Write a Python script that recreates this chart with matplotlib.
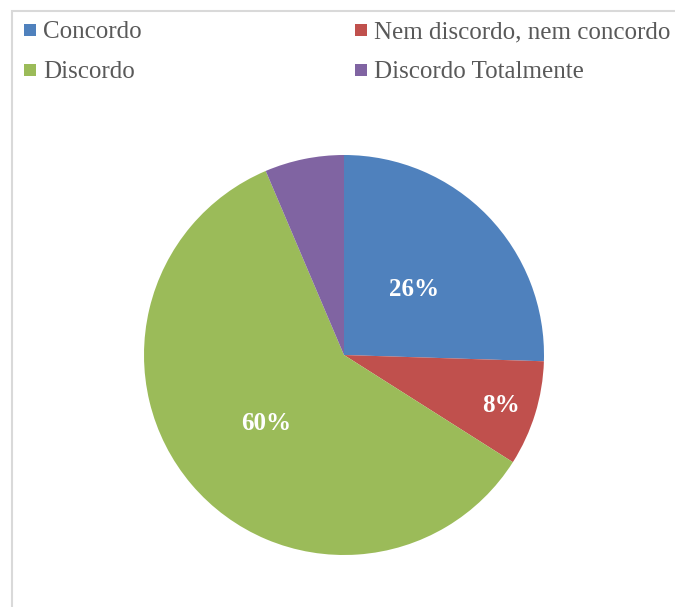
import numpy as np
import matplotlib
matplotlib.use("Agg")
import matplotlib.pyplot as plt
from matplotlib.patches import Rectangle

labels = ["Concordo", "Nem discordo, nem concordo", "Discordo", "Discordo Totalmente"]
values = [25.5, 8.5, 59.6, 6.4]
pct_labels = ["26%", "8%", "60%", None]
colors = ["#4F81BD", "#C0504D", "#9BBB59", "#8064A2"]
# label distance from centre (fraction of radius), Excel "best fit" style
label_dist = [0.49, 0.82, 0.51, None]

W, H = 675, 607
fig = plt.figure(figsize=(W / 100, H / 100), dpi=100)
plt.rcParams['font.family'] = ['Liberation Serif', 'DejaVu Serif']

# chart area border
fig.patches.append(Rectangle((12 / W, -0.1), 2, 1.1 - 11 / H, transform=fig.transFigure,
                             fill=False, edgecolor="#D9D9D9", linewidth=1.5))

# pie: centre (344, 355) px, radius 200 px
r = 200
ax = fig.add_axes([(344 - 1.1 * r) / W, (H - 355 - 1.1 * r) / H, 2.2 * r / W, 2.2 * r / H])
wedges, _ = ax.pie(values, colors=colors, startangle=90, counterclock=False, radius=1,
                   wedgeprops=dict(linewidth=0))
ax.set_xlim(-1.1, 1.1)
ax.set_ylim(-1.1, 1.1)
ax.set_aspect("equal")
ax.axis("off")

for w, txt, d in zip(wedges, pct_labels, label_dist):
    if txt is None:
        continue
    ang = np.deg2rad((w.theta1 + w.theta2) / 2)
    ax.text(d * np.cos(ang), d * np.sin(ang), txt, ha="center", va="center_baseline",
            color="white", fontsize=18, fontweight="bold")

# legend (two rows, two columns)
leg_pos = [(24, 30), (355, 30), (24, 70), (355, 70)]
for (x, y), lab, c in zip(leg_pos, labels, colors):
    fig.patches.append(Rectangle((x / W, 1 - (y + 6) / H), 12 / W, 12 / H,
                                 transform=fig.transFigure, facecolor=c, edgecolor="none"))
    fig.text((x + 19) / W, 1 - y / H, lab, ha="left", va="center_baseline", fontsize=18,
             color="#595959")

fig.savefig("out.png", dpi=100)
